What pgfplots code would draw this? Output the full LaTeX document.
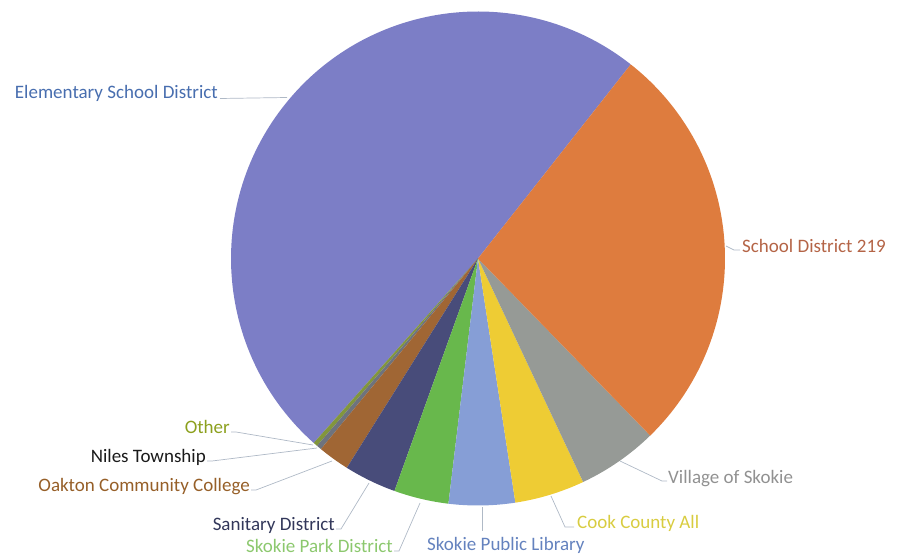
\documentclass[border=0pt]{standalone}
\usepackage{pgfplots}
\pgfplotsset{compat=1.18}
\usepackage{fontspec}
\setmainfont{Carlito}

\definecolor{cElem}{RGB}{124,126,198}
\definecolor{cSD}{RGB}{222,124,62}
\definecolor{cVil}{RGB}{150,154,150}
\definecolor{cCook}{RGB}{238,204,52}
\definecolor{cLib}{RGB}{134,158,214}
\definecolor{cPark}{RGB}{104,184,76}
\definecolor{cSan}{RGB}{72,76,122}
\definecolor{cOak}{RGB}{160,102,52}
\definecolor{cNil}{RGB}{110,115,125}
\definecolor{cOth}{RGB}{130,150,60}

\definecolor{tElem}{RGB}{72,110,175}
\definecolor{tSD}{RGB}{180,100,70}
\definecolor{tVil}{RGB}{145,145,145}
\definecolor{tCook}{RGB}{216,204,64}
\definecolor{tLib}{RGB}{100,130,190}
\definecolor{tPark}{RGB}{140,200,110}
\definecolor{tSan}{RGB}{50,55,90}
\definecolor{tOak}{RGB}{150,95,40}
\definecolor{tNil}{RGB}{26,26,26}
\definecolor{tOth}{RGB}{140,160,30}
\definecolor{lead}{RGB}{175,185,198}

\newcommand\pieR{247}
\newcommand\pieX{478}
\newcommand\pieY{-258.5}
\def\piecum{51.8}
% #1 = share in percent, #2 = colour
\newcommand\slice[2]{%
  \pgfmathsetmacro\sA{\piecum}%
  \pgfmathsetmacro\sB{\piecum+#1*3.6}%
  \pgfmathsetmacro\sX{\pieX+\pieR*cos(\sA)}%
  \pgfmathsetmacro\sY{\pieY+\pieR*sin(\sA)}%
  \edef\temp{\noexpand\fill[#2] (axis cs:\pieX,\pieY) -- (axis cs:\sX,\sY) arc[start angle=\sA, end angle=\sB, radius=\pieR] -- cycle;}%
  \temp
  \global\let\piecum\sB}

\begin{document}
\begin{tikzpicture}
\begin{axis}[
  width=898pt, height=559pt, scale only axis,
  xmin=0, xmax=898, ymin=-559, ymax=0,
  disabledatascaling,
  hide axis, clip=false,
]
% shares in percent, counter-clockwise from the top-right boundary
\slice{49.03}{cElem}
\slice{0.28}{cOth}
\slice{0.33}{cNil}
\slice{2.06}{cOak}
\slice{3.42}{cSan}
\slice{3.58}{cPark}
\slice{4.33}{cLib}
\slice{4.58}{cCook}
\slice{5.28}{cVil}
\slice{27.11}{cSD}

\begin{scope}[lead, line width=0.7pt]
\draw (axis cs:220,-98.5) -- (axis cs:287,-97.5);
\draw (axis cs:726,-246) -- (axis cs:734,-250) -- (axis cs:740,-250);
\draw (axis cs:620,-461) -- (axis cs:662,-481) -- (axis cs:667,-481);
\draw (axis cs:551,-496) -- (axis cs:565,-527) -- (axis cs:574,-527);
\draw (axis cs:482,-507) -- (axis cs:482,-531);
\draw (axis cs:394,-551) -- (axis cs:399,-551) -- (axis cs:420,-503);
\draw (axis cs:336,-529) -- (axis cs:341,-529) -- (axis cs:369,-483);
\draw (axis cs:251,-490) -- (axis cs:256,-490) -- (axis cs:332,-461);
\draw (axis cs:207,-461) -- (axis cs:212,-461) -- (axis cs:317,-448);
\draw (axis cs:231,-432) -- (axis cs:236,-432) -- (axis cs:313,-445);
\end{scope}

\begin{scope}[every node/.style={inner sep=0pt, font=\fontsize{19}{22}\selectfont}]
\node[anchor=base east, text=tElem] at (axis cs:218,-99) {Elementary School District};
\node[anchor=base west, text=tSD] at (axis cs:742,-252) {School District 219};
\node[anchor=base west, text=tVil] at (axis cs:668,-483) {Village of Skokie};
\node[anchor=base west, text=tCook] at (axis cs:577,-528) {Cook County All};
\node[anchor=base west, text=tLib] at (axis cs:427,-550) {Skokie Public Library};
\node[anchor=base east, text=tPark] at (axis cs:393,-552) {Skokie Park District};
\node[anchor=base east, text=tSan] at (axis cs:335,-530) {Sanitary District};
\node[anchor=base east, text=tOak] at (axis cs:250,-491) {Oakton Community College};
\node[anchor=base east, text=tNil] at (axis cs:206,-462) {Niles Township};
\node[anchor=base east, text=tOth] at (axis cs:230,-433) {Other};
\end{scope}
\end{axis}
\pgfresetboundingbox
\useasboundingbox (0,0) rectangle (898pt,559pt);
\end{tikzpicture}
\end{document}
